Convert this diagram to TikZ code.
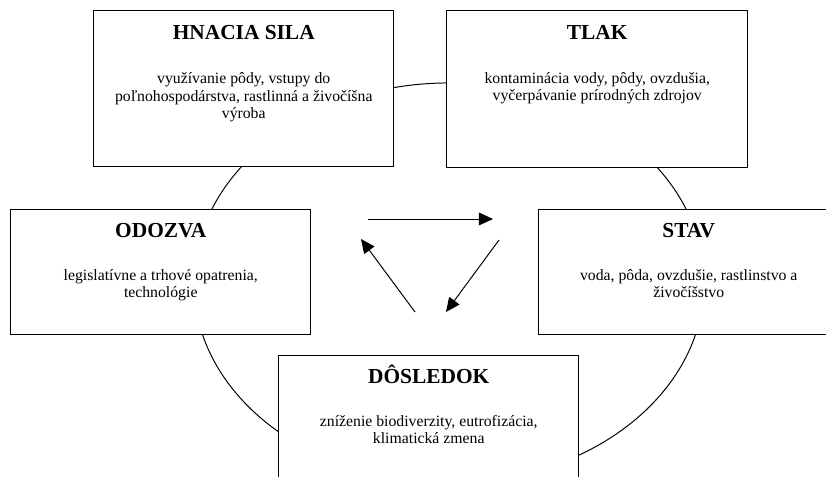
\documentclass[tikz,border=0pt]{standalone}
\usepackage{fontspec}
\setmainfont{Liberation Serif}
\usetikzlibrary{positioning,arrows.meta}

\begin{document}
\begin{tikzpicture}[x=0.025cm,y=0.025cm,
    box/.style={draw, line width=1pt, fill=white, anchor=north west,
                minimum width=7.5cm, inner sep=0pt},
    head/.style={font=\fontsize{15.2}{18}\selectfont\bfseries, inner sep=0pt, anchor=base},
    body/.style={font=\fontsize{11.2}{12.3}\selectfont, align=center, inner sep=0pt},
    flow/.style={line width=0.7pt, -{Triangle[length=10pt,width=9pt]}}]
  \clip (0,0) rectangle (826,-477);
  % cycle behind the boxes
  \draw[line width=0.7pt] (449,-283) ellipse [x radius=6.375cm, y radius=5cm];

  \node[box, minimum height=3.9cm] (sila) at (93,-10) {};
  \node[box, minimum width=7.525cm, minimum height=3.925cm] (tlak) at (446,-10) {};
  \node[box, minimum height=3.125cm] (odozva) at (10,-209) {};
  \node[box, minimum height=3.125cm] (stav) at (538,-209) {};
  \node[box, minimum height=3.5cm] (dosledok) at (278,-355) {};

  \node[head] (silah) at ([yshift=-0.73cm]sila.north) {HNACIA SILA};
  \node[body, below=0.82cm of silah] (silat)
       {využívanie pôdy, vstupy do\\ poľnohospodárstva, rastlinná a živočíšna\\ výroba};
  \node[head] (tlakh) at ([yshift=-0.73cm]tlak.north) {TLAK};
  \node[body, below=0.82cm of tlakh] (tlakt)
       {kontaminácia vody, pôdy, ovzdušia,\\ vyčerpávanie prírodných zdrojov};
  \node[head] (odozvah) at ([yshift=-0.70cm]odozva.north) {ODOZVA};
  \node[body, below=0.78cm of odozvah] (odozvat)
       {legislatívne a trhové opatrenia,\\ technológie};
  \node[head] (stavh) at ([yshift=-0.70cm]stav.north) {STAV};
  \node[body, below=0.78cm of stavh] (stavt)
       {voda, pôda, ovzdušie, rastlinstvo a\\ živočíšstvo};
  \node[head] (dosledokh) at ([yshift=-0.70cm]dosledok.north) {DÔSLEDOK};
  \node[body, below=0.78cm of dosledokh] (dosledokt)
       {zníženie biodiverzity, eutrofizácia,\\ klimatická zmena};

  % arrows in the middle
  \coordinate (p1) at (368,-219);
  \coordinate (p2) at (493,-219);
  \coordinate (p3) at (499,-240);
  \coordinate (p4) at (446,-312);
  \coordinate (p5) at (415,-312);
  \coordinate (p6) at (361,-239);
  \draw[flow] (p1) -- (p2);
  \draw[flow] (p3) -- (p4);
  \draw[flow] (p5) -- (p6);
\end{tikzpicture}
\end{document}
